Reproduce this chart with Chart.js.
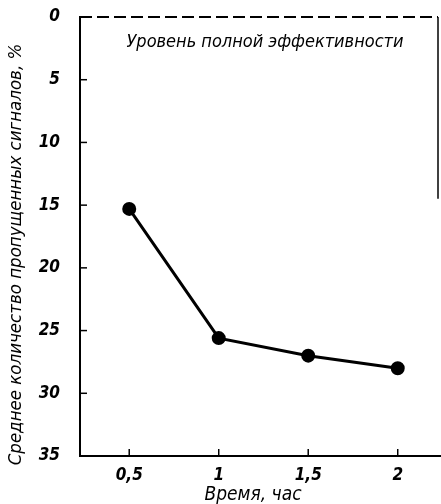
<!DOCTYPE html>
<html><head><meta charset="utf-8">
<script src="https://cdn.jsdelivr.net/npm/chart.js@4.4.0/dist/chart.umd.min.js"></script>
<style>html,body{margin:0;padding:0;background:#fff}#wrap{width:441px;height:504px}</style>
</head><body><div id="wrap"><canvas id="c" width="441" height="504"></canvas></div>
<script>
const hours = [0.5, 1, 1.5, 2];
const missed = [15.3, 25.6, 27.0, 28.0];
const xTickValues = [0.5, 1, 1.5, 2];
const xTickLabels = ['0,5', '1', '1,5', '2'];
const yTickValues = [0, 5, 10, 15, 20, 25, 30, 35];
const yTitle = 'Среднее количество пропущенных сигналов, %';
const xTitle = 'Время, час';
const levelText = 'Уровень полной эффективности';

const FONT = '"Liberation Sans Narrow", "DejaVu Sans Condensed", "Liberation Sans", sans-serif';

const decor = {
  id: 'decor',
  afterDraw(chart) {
    const {ctx, chartArea: a, scales: {x, y}} = chart;
    ctx.save();
    ctx.strokeStyle = '#000';
    ctx.lineWidth = 1.5;
    yTickValues.forEach(v => {
      if (v === 0 || v === 35) return;
      const py = y.getPixelForValue(v);
      ctx.beginPath(); ctx.moveTo(a.left, py); ctx.lineTo(a.left + 7, py); ctx.stroke();
    });
    xTickValues.forEach(v => {
      const px = x.getPixelForValue(v);
      ctx.beginPath(); ctx.moveTo(px, a.bottom); ctx.lineTo(px, a.bottom - 7); ctx.stroke();
    });
    ctx.lineWidth = 2;
    ctx.setLineDash([12, 5]);
    const p0 = y.getPixelForValue(0);
    ctx.beginPath(); ctx.moveTo(a.left, p0); ctx.lineTo(a.right, p0); ctx.stroke();
    ctx.setLineDash([]);
    ctx.lineWidth = 1.5;
    ctx.beginPath(); ctx.moveTo(a.right, p0); ctx.lineTo(a.right, y.getPixelForValue(14.5)); ctx.stroke();
    ctx.lineWidth = 2;
    ctx.beginPath(); ctx.moveTo(a.left, a.bottom); ctx.lineTo(chart.width, a.bottom); ctx.stroke();
    ctx.fillStyle = '#000';
    ctx.textAlign = 'center'; ctx.textBaseline = 'middle';
    ctx.font = 'italic 18px ' + FONT;
    ctx.fillText(levelText, (a.left + a.right) / 2 + 6, y.getPixelForValue(2));
    ctx.font = 'italic 19px ' + FONT;
    ctx.fillText(xTitle, (a.left + a.right) / 2 - 6, a.bottom + 39);
    ctx.translate(16, (a.top + a.bottom) / 2 + 18);
    ctx.rotate(-Math.PI / 2);
    ctx.font = 'italic 18.5px ' + FONT;
    ctx.fillText(yTitle, 0, 0);
    ctx.restore();
  }
};

new Chart(document.getElementById('c'), {
  type: 'scatter',
  data: {
    datasets: [{
      data: hours.map((h, i) => ({x: h, y: missed[i]})),
      showLine: true,
      borderColor: '#000',
      backgroundColor: '#000',
      borderWidth: 3,
      pointRadius: 5.5,
      pointHoverRadius: 5.5
    }]
  },
  options: {
    responsive: false,
    animation: false,
    devicePixelRatio: 1,
    layout: {autoPadding: false, padding: {top: 17, right: 3, left: 0, bottom: 0}},
    plugins: {legend: {display: false}, tooltip: {enabled: false}},
    scales: {
      x: {
        type: 'linear', min: 0.225, max: 2.225,
        afterBuildTicks: s => { s.ticks = xTickValues.map(v => ({value: v})); },
        afterFit: s => { s.height = 48; s.paddingLeft = 0; s.paddingRight = 0; },
        grid: {display: false},
        border: {display: true, color: '#000', width: 2},
        ticks: {
          color: '#000', padding: 1,
          font: {family: FONT, size: 17, style: 'italic', weight: 'bold'},
          callback: (v) => xTickLabels[xTickValues.indexOf(v)]
        }
      },
      y: {
        type: 'linear', min: 0, max: 35, reverse: true,
        afterBuildTicks: s => { s.ticks = yTickValues.map(v => ({value: v})); },
        afterFit: s => { s.width = 80; s.paddingTop = 0; s.paddingBottom = 0; },
        grid: {display: false},
        border: {display: true, color: '#000', width: 2},
        ticks: {
          color: '#000', padding: 12,
          font: {family: FONT, size: 17, style: 'italic', weight: 'bold'}
        }
      }
    }
  },
  plugins: [decor]
});
</script></body></html>
